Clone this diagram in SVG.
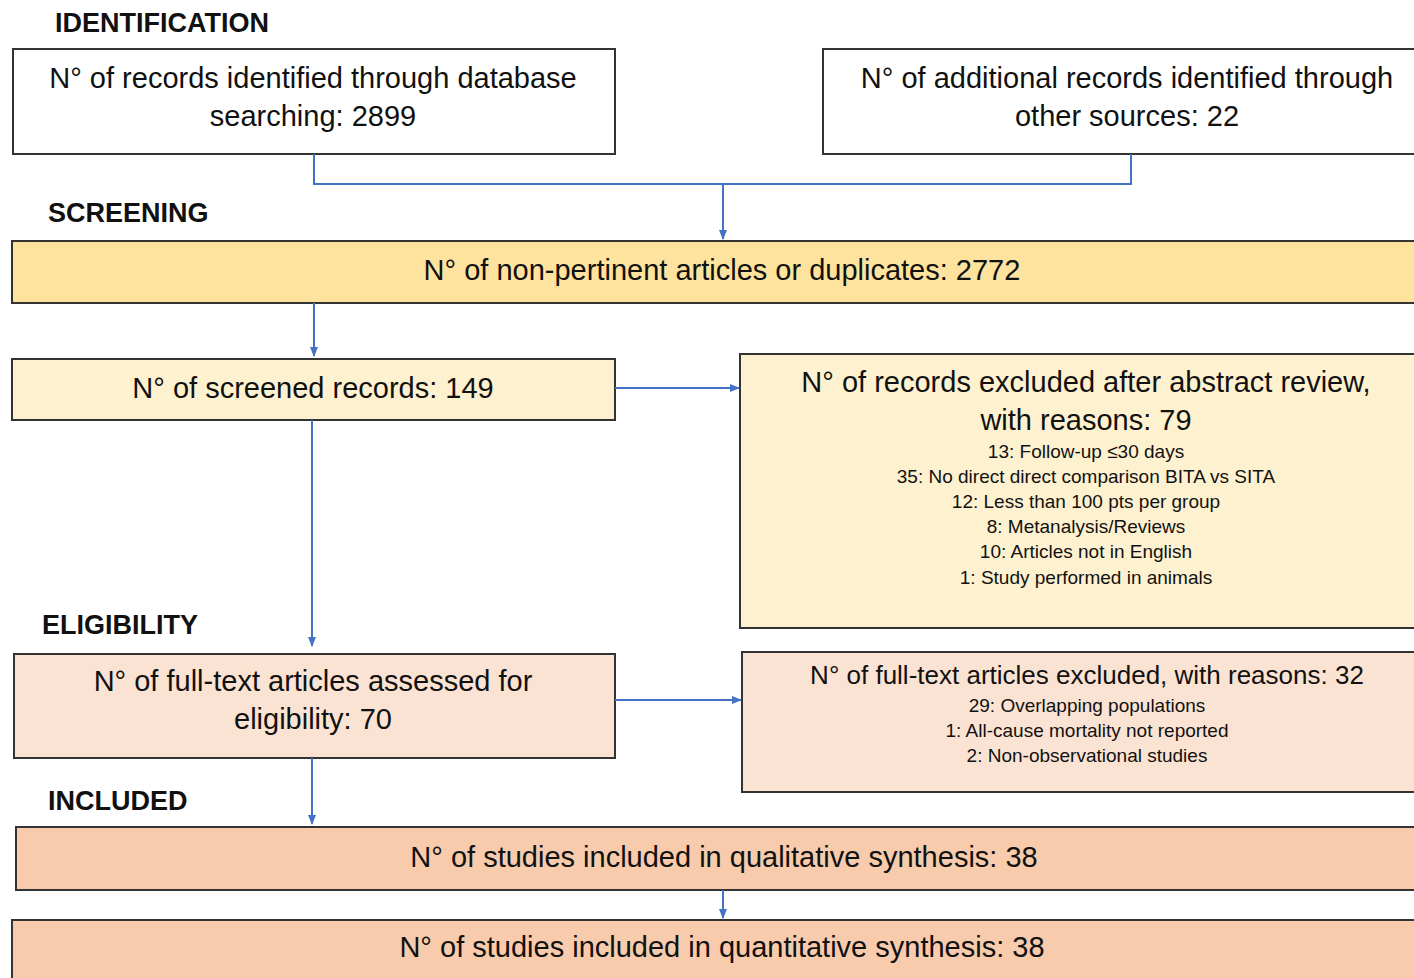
<svg xmlns="http://www.w3.org/2000/svg" width="1414" height="978" viewBox="0 0 1414 978">
<defs>
<marker id="ah" markerWidth="10" markerHeight="10" refX="9" refY="5" orient="auto" markerUnits="userSpaceOnUse">
<path d="M0,1 L10,5 L0,9 Z" fill="#4472c4"/>
</marker>
<style>
.box{stroke:#333;stroke-width:2}
.t{font-family:"Liberation Sans",Arial,sans-serif;fill:#111;text-anchor:middle;font-size:29px}
.s{font-family:"Liberation Sans",Arial,sans-serif;fill:#111;text-anchor:middle;font-size:19px}
.h{font-family:"Liberation Sans",Arial,sans-serif;fill:#111;font-weight:bold;font-size:27px}
.c{fill:none;stroke:#4472c4;stroke-width:2}
</style>
</defs>
<rect width="1414" height="978" fill="#fff"/>
<text class="h" x="55" y="32">IDENTIFICATION</text>
<text class="h" x="48" y="222">SCREENING</text>
<text class="h" x="42" y="634">ELIGIBILITY</text>
<text class="h" x="48" y="810">INCLUDED</text>

<g id="n1"><rect class="box" x="13" y="49" width="602" height="105" fill="#fff"/>
<text class="t" x="313" y="88">N° of records identified through database</text>
<text class="t" x="313" y="126">searching: 2899</text></g>

<g id="n2"><rect class="box" x="823" y="49" width="600" height="105" fill="#fff"/>
<text class="t" x="1127" y="88">N° of additional records identified through</text>
<text class="t" x="1127" y="126">other sources: 22</text></g>

<g id="n3"><rect class="box" x="12" y="241" width="1410" height="62" fill="#fde39e"/>
<text class="t" x="722" y="280">N° of non-pertinent articles or duplicates: 2772</text></g>

<g id="n4"><rect class="box" x="12" y="359" width="603" height="61" fill="#fef1cf"/>
<text class="t" x="313" y="398">N° of screened records: 149</text></g>

<g id="n5"><rect class="box" x="740" y="354" width="682" height="274" fill="#fef1cf"/>
<text class="t" x="1086" y="392">N° of records excluded after abstract review,</text>
<text class="t" x="1086" y="430">with reasons: 79</text>
<text class="s" x="1086" y="458">13: Follow-up ≤30 days</text>
<text class="s" x="1086" y="483">35: No direct direct comparison BITA vs SITA</text>
<text class="s" x="1086" y="508">12: Less than 100 pts per group</text>
<text class="s" x="1086" y="533">8: Metanalysis/Reviews</text>
<text class="s" x="1086" y="558">10: Articles not in English</text>
<text class="s" x="1086" y="584">1: Study performed in animals</text></g>

<g id="n6"><rect class="box" x="14" y="654" width="601" height="104" fill="#fbe3d3"/>
<text class="t" x="313" y="691">N° of full-text articles assessed for</text>
<text class="t" x="313" y="729">eligibility: 70</text></g>

<g id="n7"><rect class="box" x="742" y="652" width="680" height="140" fill="#fbe3d3"/>
<text class="t" x="1087" y="684" style="font-size:26px">N° of full-text articles excluded, with reasons: 32</text>
<text class="s" x="1087" y="712">29: Overlapping populations</text>
<text class="s" x="1087" y="737">1: All-cause mortality not reported</text>
<text class="s" x="1087" y="762">2: Non-observational studies</text></g>

<g id="n8"><rect class="box" x="16" y="827" width="1406" height="63" fill="#f7cbac"/>
<text class="t" x="724" y="867">N° of studies included in qualitative synthesis: 38</text></g>

<g id="n9"><rect class="box" x="12" y="920" width="1410" height="70" fill="#f7cbac"/>
<text class="t" x="722" y="957">N° of studies included in quantitative synthesis: 38</text></g>

<g id="connectors">
<path class="c" d="M314,154 V184 H1131 V154"/>
<path class="c" d="M723,184 V239" marker-end="url(#ah)"/>
<path class="c" d="M314,303 V356" marker-end="url(#ah)"/>
<path class="c" d="M615,388 H739" marker-end="url(#ah)"/>
<path class="c" d="M312,420 V646" marker-end="url(#ah)"/>
<path class="c" d="M615,700 H741" marker-end="url(#ah)"/>
<path class="c" d="M312,758 V824" marker-end="url(#ah)"/>
<path class="c" d="M723,890 V918" marker-end="url(#ah)"/>
</g>
</svg>
